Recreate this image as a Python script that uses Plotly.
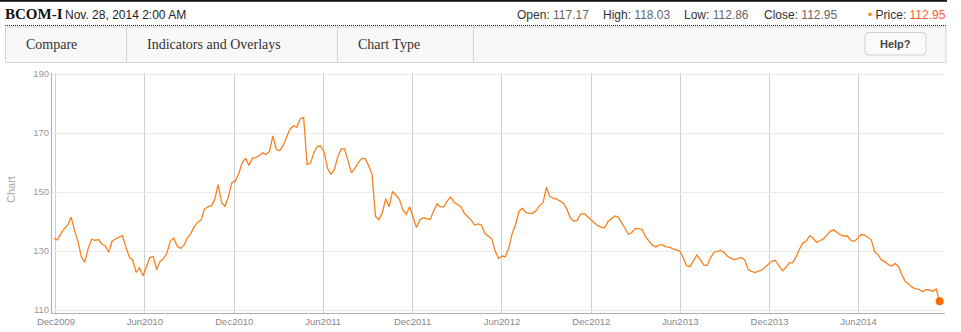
import pandas as pd
import plotly.graph_objects as go

# ---------------- data ----------------
start_date = "2009-11-27"
end_date = "2014-11-14"
values = [
    134.3, 133.8, 135.8, 137.6, 138.8, 141.5, 137.0, 133.3, 128.0, 126.2,
    130.9, 134.0, 133.6, 133.9, 132.4, 131.7, 129.6, 133.4, 134.1, 134.7,
    135.2, 131.5, 128.0, 127.0, 122.8, 124.3, 121.6, 124.5, 127.8, 128.2,
    123.7, 126.5, 127.4, 129.3, 133.4, 134.4, 131.7, 130.9, 132.0, 134.5,
    135.9, 138.2, 139.8, 140.5, 144.2, 145.0, 145.3, 147.5, 152.5, 146.5,
    145.1, 148.5, 153.2, 153.7, 156.2, 159.8, 161.5, 159.0, 161.5, 161.7,
    162.3, 163.3, 162.7, 163.8, 169.0, 164.5, 164.0, 165.8, 168.8, 171.3,
    172.5, 172.0, 174.8, 175.3, 159.3, 159.8, 163.3, 165.5, 165.6, 163.5,
    158.0, 156.0, 157.6, 162.0, 164.6, 164.6, 160.5, 156.5, 158.0, 160.0,
    161.4, 161.3, 159.0, 156.0, 141.8, 140.6, 143.0, 147.7, 145.0, 150.2,
    149.0, 147.5, 144.0, 142.5, 145.0, 141.5, 138.0, 140.6, 141.2, 141.0,
    140.7, 143.5, 146.0, 145.0, 145.0, 147.0, 148.3, 146.5, 145.6, 145.0,
    142.8, 141.5, 140.5, 138.8, 139.2, 138.8, 136.0, 135.0, 134.2, 130.0,
    127.5, 128.3, 128.1, 131.0, 136.0, 139.0, 143.5, 144.5, 143.0, 142.8,
    142.8, 143.7, 145.4, 146.3, 151.6, 148.5, 147.9, 147.6, 147.0, 146.2,
    144.2, 141.2, 140.1, 140.4, 142.5, 142.7, 141.7, 140.6, 139.5, 138.6,
    138.1, 137.8, 140.0, 140.9, 141.9, 141.5, 139.5, 137.2, 135.7, 136.3,
    137.7, 137.6, 137.3, 134.8, 133.3, 132.0, 131.4, 132.1, 132.1, 131.4,
    131.3, 130.7, 130.4, 130.0, 127.8, 125.0, 124.7, 126.9, 128.7, 127.0,
    125.3, 125.1, 127.7, 129.6, 130.0, 130.2, 129.5, 128.2, 127.5, 127.1,
    127.4, 127.8, 127.0, 123.7, 123.1, 122.7, 123.2, 123.5, 124.6, 125.5,
    126.6, 126.8, 125.0, 123.3, 124.3, 126.0, 126.0, 128.0, 130.6, 132.7,
    133.4, 135.2, 134.4, 132.9, 133.5, 134.2, 135.3, 136.7, 137.2, 136.4,
    135.5, 135.1, 135.1, 133.7, 133.3, 134.2, 135.6, 135.5, 134.5, 133.8,
    129.8, 128.7, 126.9, 126.4, 125.4, 124.9, 125.8, 124.7, 121.9, 119.6,
    118.8, 117.7, 117.2, 117.0, 116.2, 117.0, 116.8, 116.4, 117.1, 112.95,
]
dates = pd.date_range(start_date, end_date, freq="7D")

symbol = "BCOM-I"
timestamp = "Nov. 28, 2014 2:00 AM"
quote_labels = ["Open:", "High:", "Low:", "Close:"]
quote_values = ["117.17", "118.03", "112.86", "112.95"]
price_value = "112.95"
menu_items = ["Compare", "Indicators and Overlays", "Chart Type"]
y_ticks = [110, 130, 150, 170, 190]

# ---------------- geometry helpers ----------------
W, H = 961, 332
PL, PR, PT, PB = 52, 945, 73, 313


def px(x):
    return (x - PL) / (PR - PL)


def py(y):
    return (PB - y) / (PB - PT)


ORANGE = "#f7821f"
SANS = "Liberation Sans, Arial, sans-serif"
SERIF = "Liberation Serif, Georgia, serif"

fig = go.Figure()
fig.add_trace(go.Scatter(
    x=dates, y=values, mode="lines",
    line=dict(color=ORANGE, width=1.3),
    hoverinfo="skip", showlegend=False,
))
fig.add_trace(go.Scatter(
    x=[dates[-1]], y=[values[-1]], mode="markers",
    marker=dict(color="#ff6a00", size=8),
    hoverinfo="skip", showlegend=False,
))

shapes = []
annotations = []

# top black rule
shapes.append(dict(type="line", xref="paper", yref="paper",
                   x0=px(0), x1=px(947), y0=py(0.8), y1=py(0.8),
                   line=dict(color="#111", width=2)))
# dotted rule
shapes.append(dict(type="line", xref="paper", yref="paper",
                   x0=px(5), x1=px(946), y0=py(25.5), y1=py(25.5),
                   line=dict(color="#222", width=1, dash="1px,1px")))
# toolbar
shapes.append(dict(type="rect", xref="paper", yref="paper",
                   x0=px(5.5), x1=px(946), y0=py(27), y1=py(62.5),
                   fillcolor="#f8f8f8", line=dict(color="#d6d6d6", width=1),
                   layer="below"))
for sx in [126.5, 337.5, 473.5]:
    shapes.append(dict(type="line", xref="paper", yref="paper",
                       x0=px(sx), x1=px(sx), y0=py(27), y1=py(62.5),
                       line=dict(color="#d6d6d6", width=1)))

# Help button (rounded rect)
bx0, bx1, by0, by1, r = 865, 926, 32.5, 55, 4
path = (f"M {px(bx0 + r)},{py(by0)} L {px(bx1 - r)},{py(by0)} "
        f"Q {px(bx1)},{py(by0)} {px(bx1)},{py(by0 + r)} "
        f"L {px(bx1)},{py(by1 - r)} Q {px(bx1)},{py(by1)} {px(bx1 - r)},{py(by1)} "
        f"L {px(bx0 + r)},{py(by1)} Q {px(bx0)},{py(by1)} {px(bx0)},{py(by1 - r)} "
        f"L {px(bx0)},{py(by0 + r)} Q {px(bx0)},{py(by0)} {px(bx0 + r)},{py(by0)} Z")
shapes.append(dict(type="path", xref="paper", yref="paper", path=path,
                   fillcolor="#fafafa", line=dict(color="#cfcfcf", width=1)))


def text(x, y, s, size=12, color="#222", family=SANS, anchor="left", angle=0):
    annotations.append(dict(
        xref="paper", yref="paper", x=px(x), y=py(y), text=s,
        showarrow=False, xanchor=anchor, yanchor="middle",
        font=dict(size=size, color=color, family=family),
        textangle=angle, borderpad=0,
    ))


# header
text(4, 14, f"<b>{symbol}</b>", size=15, color="#111", family=SERIF)
text(64, 14.5, timestamp, size=12, color="#222")
quote_x = [516, 602, 683, 763]
for qx, lab, val in zip(quote_x, quote_labels, quote_values):
    text(qx, 14.5, f"{lab} <span style='color:#666'>{val}</span>", size=12, color="#333")
text(867, 14.5, "<span style='color:#ff7a1a'>•</span> Price: "
     f"<span style='color:#ff5a36'>{price_value}</span>", size=12, color="#333")

# menu
for mx, lab in zip([25, 146, 357], menu_items):
    text(mx, 45, lab, size=14, color="#333", family=SERIF)
text(895.5, 44, "<b>Help?</b>", size=11, color="#444", anchor="center")

# y axis title
text(11, 190, "Chart", size=11, color="#aaa", anchor="center", angle=-90)

fig.update_layout(
    width=W, height=H,
    margin=dict(l=PL, r=W - PR, t=PT, b=H - PB, autoexpand=False),
    paper_bgcolor="white", plot_bgcolor="white",
    shapes=shapes, annotations=annotations,
    xaxis=dict(
        type="date",
        range=["2009-11-22 20:00", "2014-11-25"],
        tick0="2009-12-01", dtick="M6", tickformat="%b%Y",
        showgrid=True, gridcolor="#d0d0d0", gridwidth=1,
        showline=True, linecolor="#b0b0b0", linewidth=1,
        ticks="", tickfont=dict(size=9.5, color="#888", family=SANS),
        zeroline=False, fixedrange=True, automargin=False,
    ),
    yaxis=dict(
        range=[109.0, 190.35],
        tickvals=y_ticks,
        showgrid=True, gridcolor="#ebebeb", gridwidth=1,
        showline=True, linecolor="#b0b0b0", linewidth=1,
        ticks="", tickfont=dict(size=9.5, color="#999", family=SANS),
        zeroline=False, fixedrange=True, automargin=False,
    ),
)

fig.write_html("out.html", config={"displayModeBar": False})
